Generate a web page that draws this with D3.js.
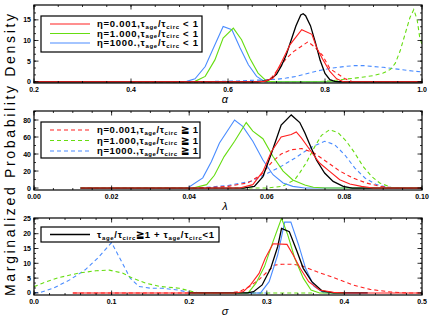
<!DOCTYPE html>
<html>
<head>
<meta charset="utf-8">
<script src="https://cdnjs.cloudflare.com/ajax/libs/d3/7.8.5/d3.min.js"></script>
<style>
  body { margin: 0; background: #fff; }
  text { font-family: "Liberation Sans", Arial, sans-serif; }
</style>
</head>
<body>
<script>
// ---- data ([x, density]) ----
// panel 1: alpha
var alphaRed = [[0.2,0],[0.66,0],[0.676,0.1],[0.693,0.9],[0.711,4.9],[0.728,9.0],[0.752,12.6],[0.773,11.5],[0.783,8.2],[0.796,5.3],[0.81,2.5],[0.824,0.7],[0.838,0],[1.0,0]];
var alphaGreen = [[0.2,0],[0.52,0],[0.532,0.1],[0.553,1.3],[0.573,5.3],[0.59,10.6],[0.611,13.0],[0.628,10.2],[0.645,5.7],[0.662,2.1],[0.68,0.1],[0.70,0],[1.0,0]];
var alphaBlue = [[0.2,0],[0.49,0],[0.515,0.1],[0.532,0.7],[0.553,3.7],[0.57,8.2],[0.59,13.4],[0.608,12.6],[0.625,8.2],[0.642,4.1],[0.659,1.3],[0.676,0],[1.0,0]];
var alphaBlack = [[0.2,0],[0.66,0],[0.68,0.2],[0.69,0.8],[0.70,1.8],[0.71,3.8],[0.72,6.5],[0.73,10],[0.74,13.5],[0.75,16.2],[0.755,16.5],[0.76,16],[0.77,13.6],[0.78,9.6],[0.79,5.2],[0.80,2.0],[0.81,0.5],[0.82,0.1],[0.83,0],[1.0,0]];
var alphaRedD = [[0.4,0],[0.66,0],[0.675,0.1],[0.69,1.0],[0.705,3.3],[0.72,5.6],[0.735,7.3],[0.75,8.5],[0.765,9.7],[0.78,8.3],[0.795,6.4],[0.81,3.2],[0.825,2.0],[0.84,0.8],[0.855,0.1],[0.87,0],[1.0,0]];
var alphaGreenD = [[0.4,0],[0.78,0],[0.81,0.2],[0.84,0.6],[0.87,1.0],[0.90,1.5],[0.92,2.1],[0.935,3.0],[0.945,4.5],[0.955,7.5],[0.965,11.5],[0.975,15.5],[0.983,17.5],[0.99,15],[0.995,11],[1.0,9]];
var alphaBlueD = [[0.4,0],[0.5,0],[0.56,0.05],[0.62,0.2],[0.66,0.4],[0.70,0.6],[0.72,0.9],[0.74,1.3],[0.76,1.9],[0.78,2.5],[0.80,3.0],[0.82,3.4],[0.84,3.7],[0.86,3.9],[0.88,3.9],[0.90,3.7],[0.92,3.5],[0.94,3.2],[0.96,2.9],[0.98,2.6],[1.0,2.4]];

// panel 2: lambda
var lambdaRed = [[0.012,0],[0.053,0],[0.0564,4],[0.059,19.6],[0.0612,43],[0.0637,60],[0.0663,63],[0.0676,66],[0.0689,59],[0.0711,45],[0.0736,29.4],[0.0762,19.6],[0.0788,9.8],[0.0814,4.7],[0.0844,2],[0.0874,0],[0.1,0]];
var lambdaGreen = [[0.012,0],[0.041,0],[0.0445,4],[0.0465,15],[0.049,37],[0.0517,55],[0.0547,77],[0.0564,67],[0.059,58],[0.0616,37],[0.0642,20],[0.0667,9.5],[0.0698,3.5],[0.072,1],[0.075,0],[0.1,0]];
var lambdaBlue = [[0.012,0],[0.0396,0],[0.0435,12],[0.0457,31],[0.0478,53],[0.0517,80],[0.0538,72.5],[0.0564,55],[0.059,33],[0.0616,15.7],[0.0642,5.9],[0.0667,2],[0.0698,0],[0.1,0]];
var lambdaBlack = [[0.012,0],[0.054,0],[0.0568,2],[0.059,13.5],[0.0612,41],[0.0637,74],[0.0663,86],[0.0685,77],[0.0698,65],[0.0711,51],[0.0728,33],[0.0749,17.6],[0.0771,7.8],[0.0797,2],[0.082,0],[0.1,0]];
var lambdaRedD = [[0.012,0],[0.043,0],[0.05,2],[0.0551,6],[0.0586,15.7],[0.0612,30],[0.0637,40],[0.0663,45],[0.069,46.5],[0.0719,42],[0.0754,31],[0.0788,20],[0.0822,11.8],[0.0857,5.9],[0.0891,2],[0.093,0],[0.1,0]];
var lambdaGreenD = [[0.012,0],[0.06,0],[0.064,2],[0.0672,9.8],[0.0685,18],[0.0702,30],[0.0724,49],[0.0741,62],[0.0762,68.6],[0.0784,65],[0.0805,55],[0.0827,41],[0.0848,25.5],[0.087,13.7],[0.0891,5.9],[0.092,1],[0.095,0],[0.1,0]];
var lambdaBlueD = [[0.012,0],[0.042,0],[0.05,3],[0.056,8],[0.0603,17.6],[0.0637,25.5],[0.0672,35],[0.0698,43],[0.0719,49],[0.0749,55],[0.0775,51],[0.0801,39],[0.0827,23.5],[0.0853,11.8],[0.0883,4],[0.0913,0.8],[0.095,0],[0.1,0]];

// panel 3: sigma
var sigmaRed = [[0.05,0],[0.26,0],[0.27,0.5],[0.279,2.7],[0.29,6.6],[0.298,11.7],[0.308,16.6],[0.326,16.4],[0.334,12.8],[0.343,8.3],[0.354,3.8],[0.368,1],[0.386,0.2],[0.4,0],[0.5,0]];
var sigmaGreen = [[0.2,0],[0.276,0],[0.286,3.3],[0.297,8.9],[0.308,17.3],[0.319,25.2],[0.327,19.6],[0.336,11.7],[0.347,5],[0.357,1],[0.368,0],[0.4,0]];
var sigmaBlue = [[0.2,0],[0.292,0],[0.303,3.8],[0.314,12.8],[0.323,23.9],[0.331,23.9],[0.341,16.2],[0.35,8.3],[0.361,2.2],[0.373,0.1],[0.385,0],[0.43,0]];
var sigmaBlack = [[0.2,0],[0.275,0],[0.283,0.4],[0.294,2.7],[0.305,8.3],[0.314,15.6],[0.319,21.8],[0.329,20.7],[0.339,14],[0.347,8.3],[0.358,3.8],[0.371,0.7],[0.386,0],[0.43,0]];
var sigmaRedD = [[0.05,0],[0.25,0],[0.265,0.5],[0.278,2.2],[0.29,4.5],[0.3,7],[0.31,9.4],[0.32,9.7],[0.334,9.7],[0.347,9.0],[0.364,7.2],[0.39,4.8],[0.411,2.7],[0.433,1.2],[0.46,0.3],[0.48,0],[0.5,0]];
var sigmaGreenD = [[0.0,2.1],[0.011,3.3],[0.032,5.2],[0.058,6.7],[0.08,7.5],[0.097,7.7],[0.114,6.7],[0.127,5],[0.144,3.3],[0.162,2.2],[0.187,1.6],[0.2,0.7],[0.213,0],[0.36,0]];
var sigmaBlueD = [[0.0,0],[0.01,0.3],[0.025,1.6],[0.046,4.4],[0.066,7.8],[0.083,12],[0.1,17],[0.113,10.5],[0.124,5],[0.135,2.2],[0.15,1.6],[0.165,1.6],[0.185,1],[0.2,0.2],[0.21,0],[0.3,0]];

// tick labels
var alphaTicks = [0.2, 0.4, 0.6, 0.8, 1.0];
var lambdaTicks = [0.00, 0.02, 0.04, 0.06, 0.08, 0.10];
var sigmaTicks = [0.0, 0.1, 0.2, 0.3, 0.4, 0.5];
var alphaYTicks = [0, 5, 10, 15];
var lambdaYTicks = [0, 20, 40, 60, 80];
var sigmaYTicks = [0, 5, 10, 15, 20, 25];

var etaLabels = ["0.001", "1.000", "1000."];

var RED = "#ff2020", GREEN = "#66dd11", BLUE = "#4a8cff", BLACK = "#000";

var svg = d3.select("body").append("svg")
  .attr("width", 436).attr("height", 318);

svg.append("rect").attr("width", 436).attr("height", 318).attr("fill", "#fff");

function panel(cfg) {
  var x = d3.scaleLinear().domain(cfg.xd).range([34, 422]);
  var y = d3.scaleLinear().domain(cfg.yd).range([cfg.bottom, cfg.top]);
  var g = svg.append("g");

  var clipId = "clip" + cfg.top;
  g.append("clipPath").attr("id", clipId).append("rect")
    .attr("x", 34).attr("y", cfg.top).attr("width", 388).attr("height", cfg.bottom - cfg.top);

  var line = d3.line().x(function(d) { return x(d[0]); }).y(function(d) { return y(d[1]); });
  var plot = g.append("g").attr("clip-path", "url(#" + clipId + ")");
  cfg.series.forEach(function(s) {
    plot.append("path").datum(s.data)
      .attr("d", line)
      .attr("fill", "none")
      .attr("stroke", s.color)
      .attr("stroke-width", s.w || 1.1)
      .attr("stroke-dasharray", s.dash ? "4,3" : null);
  });

  // frame
  g.append("rect").attr("x", 34).attr("y", cfg.top)
    .attr("width", 388).attr("height", cfg.bottom - cfg.top)
    .attr("fill", "none").attr("stroke", "#000").attr("stroke-width", 1.2);

  // ticks (inward, all four sides)
  var xMinor = d3.range(cfg.xd[0], cfg.xd[1] + 1e-9, cfg.xminor);
  var yMinor = d3.range(0, cfg.yd[1], cfg.yminor);
  function ticks(vals, len) {
    vals.forEach(function(v) {
      var px = x(v);
      g.append("line").attr("x1", px).attr("x2", px).attr("y1", cfg.bottom).attr("y2", cfg.bottom - len).attr("stroke", "#000").attr("stroke-width", 0.8);
      g.append("line").attr("x1", px).attr("x2", px).attr("y1", cfg.top).attr("y2", cfg.top + len).attr("stroke", "#000").attr("stroke-width", 0.8);
    });
  }
  function yticks(vals, len) {
    vals.forEach(function(v) {
      var py = y(v);
      g.append("line").attr("x1", 34).attr("x2", 34 + len).attr("y1", py).attr("y2", py).attr("stroke", "#000").attr("stroke-width", 0.8);
      g.append("line").attr("x1", 422).attr("x2", 422 - len).attr("y1", py).attr("y2", py).attr("stroke", "#000").attr("stroke-width", 0.8);
    });
  }
  ticks(xMinor, 2);
  ticks(cfg.xticks, 4.5);
  yticks(yMinor, 2);
  yticks(cfg.yticks, 4.5);

  g.selectAll(".xl").data(cfg.xticks).enter().append("text")
    .attr("x", function(d) { return x(d); })
    .attr("y", cfg.bottom + 8.5)
    .attr("text-anchor", "middle")
    .attr("font-size", 7).attr("font-weight", "bold")
    .text(function(d) { return d.toFixed(cfg.xfmt); });

  g.selectAll(".yl").data(cfg.yticks).enter().append("text")
    .attr("x", 31)
    .attr("y", function(d) { return y(d) + 2.5; })
    .attr("text-anchor", "end")
    .attr("font-size", 7).attr("font-weight", "bold")
    .text(function(d) { return d; });

  g.append("text")
    .attr("x", 225).attr("y", cfg.bottom + 19.5)
    .attr("text-anchor", "middle")
    .attr("font-family", "DejaVu Serif, serif")
    .attr("font-style", "italic")
    .attr("font-size", 11)
    .text(cfg.label);
}

function tauText(x, y, parts, len) {
  var txt = svg.append("text").attr("x", x).attr("y", y)
    .attr("font-size", 9.5).attr("font-weight", "bold");
  if (len) txt.attr("textLength", len).attr("lengthAdjust", "spacing");
  parts.forEach(function(p) {
    var ts = txt.append("tspan").text(p.t);
    if (p.sub) ts.attr("font-size", 6).attr("dy", 1.5);
    if (p.up) ts.attr("dy", -1.5);
  });
  return txt;
}

function tauRatio(rel) {
  return [{t: "\u03c4"}, {t: "age", sub: 1}, {t: "/\u03c4", up: 1}, {t: "circ", sub: 1}, {t: rel, up: 1}];
}

panel({
  xd: [0.2, 1.0], yd: [-0.3, 18.6], top: 5, bottom: 83,
  xticks: alphaTicks, yticks: alphaYTicks, xminor: 0.05, yminor: 5 / 3, xfmt: 1, label: "\u03b1",
  series: [
    {data: alphaBlueD, color: BLUE, dash: 1},
    {data: alphaGreenD, color: GREEN, dash: 1},
    {data: alphaRedD, color: RED, dash: 1},
    {data: alphaBlue, color: BLUE},
    {data: alphaGreen, color: GREEN},
    {data: alphaBlack, color: BLACK, w: 1.3},
    {data: alphaRed, color: RED}
  ]
});

panel({
  xd: [0, 0.1], yd: [-2.3, 90.6], top: 111, bottom: 190,
  xticks: lambdaTicks, yticks: lambdaYTicks, xminor: 0.005, yminor: 10, xfmt: 2, label: "\u03bb",
  series: [
    {data: lambdaBlueD, color: BLUE, dash: 1},
    {data: lambdaGreenD, color: GREEN, dash: 1},
    {data: lambdaRedD, color: RED, dash: 1},
    {data: lambdaBlue, color: BLUE},
    {data: lambdaGreen, color: GREEN},
    {data: lambdaBlack, color: BLACK, w: 1.3},
    {data: lambdaRed, color: RED}
  ]
});

panel({
  xd: [0, 0.5], yd: [-0.7, 25.3], top: 218, bottom: 295,
  xticks: sigmaTicks, yticks: sigmaYTicks, xminor: 0.02, yminor: 5 / 3, xfmt: 1, label: "\u03c3",
  series: [
    {data: sigmaBlueD, color: BLUE, dash: 1},
    {data: sigmaGreenD, color: GREEN, dash: 1},
    {data: sigmaRedD, color: RED, dash: 1},
    {data: sigmaBlue, color: BLUE},
    {data: sigmaGreen, color: GREEN},
    {data: sigmaBlack, color: BLACK, w: 1.3},
    {data: sigmaRed, color: RED}
  ]
});

// legends
function legendBox(x0, y0, w, h) {
  svg.append("rect").attr("x", x0).attr("y", y0).attr("width", w).attr("height", h)
    .attr("fill", "#fff").attr("stroke", "#000").attr("stroke-width", 1.2);
}
var legColors = [RED, GREEN, BLUE];

legendBox(41, 16, 161, 36);
legColors.forEach(function(c, i) {
  var ly = 24 + i * 9.5;
  svg.append("line").attr("x1", 50).attr("x2", 90).attr("y1", ly).attr("y2", ly)
    .attr("stroke", c).attr("stroke-width", 1.1);
  tauText(97, ly + 3, [{t: "\u03b7=" + etaLabels[i] + ","}].concat(tauRatio("  <  1")), 101);
});

legendBox(41, 122, 159, 36);
legColors.forEach(function(c, i) {
  var ly = 130 + i * 10.5;
  svg.append("line").attr("x1", 50).attr("x2", 90).attr("y1", ly).attr("y2", ly)
    .attr("stroke", c).attr("stroke-width", 1.1).attr("stroke-dasharray", "4,3");
  tauText(97, ly + 3, [{t: "\u03b7=" + etaLabels[i] + ","}].concat(tauRatio("  \u2267  1")), 101);
});

legendBox(41, 227, 178, 15);
svg.append("line").attr("x1", 50).attr("x2", 90).attr("y1", 234.5).attr("y2", 234.5)
  .attr("stroke", BLACK).attr("stroke-width", 1.3);
tauText(97, 238, tauRatio("\u22671  +  ").concat(tauRatio("<1")), 117);

// y axis title
svg.append("text")
  .attr("transform", "translate(15,155) rotate(-90)")
  .attr("text-anchor", "middle")
  .attr("font-size", 14)
  .attr("textLength", 282)
  .attr("lengthAdjust", "spacing")
  .text("Marginalized  Probability  Density");
</script>
</body>
</html>
